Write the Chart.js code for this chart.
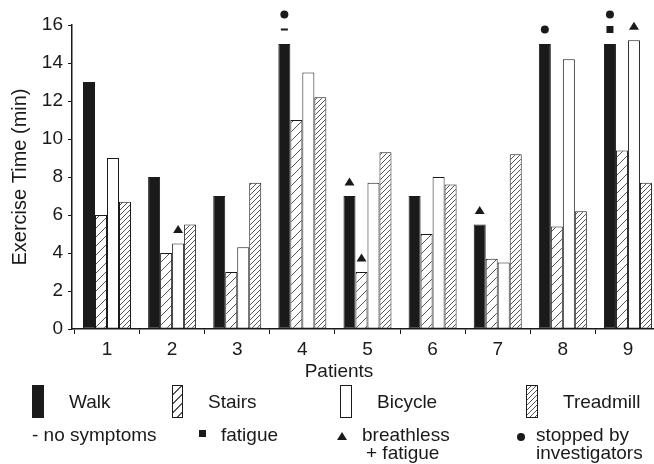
<!DOCTYPE html>
<html>
<head>
<meta charset="utf-8">
<script src="https://cdn.jsdelivr.net/npm/chart.js@4/dist/chart.umd.min.js"></script>
<style>
  html, body { margin: 0; padding: 0; background: #fff; overflow: hidden; }
  #wrap { position: relative; width: 654px; height: 464px; font-family: 'Liberation Sans', Arial, sans-serif; color: #1a1a1a; }
  #c { position: absolute; left: 0; top: 0; }
  .t { position: absolute; font-size: 19px; line-height: 19px; white-space: nowrap; }
  .t2 { position: absolute; font-size: 19px; line-height: 18px; white-space: nowrap; }
  .sw { position: absolute; box-sizing: border-box; width: 12px; height: 33px; border: 1.5px solid #1a1a1a; background: #fff; }
</style>
</head>
<body>
<div id="wrap">
  <canvas id="c" width="654" height="464"></canvas>
  <div class="t" style="left:339px; top:361px; transform:translateX(-50%);">Patients</div>

  <div class="sw" style="left:32px; top:385px; background:#1a1a1a;"></div>
  <div class="t" style="left:69px; top:392px;">Walk</div>
  <div class="sw" style="left:172px; top:385px; width:11px; background:repeating-linear-gradient(135deg, #fff 0 5.4px, #555 5.4px 6.4px);"></div>
  <div class="t" style="left:208px; top:392px;">Stairs</div>
  <div class="sw" style="left:340px; top:385px;"></div>
  <div class="t" style="left:377px; top:392px;">Bicycle</div>
  <div class="sw" style="left:526px; top:385px; background:repeating-linear-gradient(135deg, #fff 0 2.5px, #555 2.5px 3.5px);"></div>
  <div class="t" style="left:563px; top:392px;">Treadmill</div>

  <div class="t2" style="left:32px; top:426px;">- no symptoms</div>
  <div style="position:absolute; left:199px; top:430px; width:7px; height:7px; background:#1a1a1a;"></div>
  <div class="t2" style="left:221px; top:426px;">fatigue</div>
  <div style="position:absolute; left:337px; top:432px; width:0; height:0; border-left:5px solid transparent; border-right:5px solid transparent; border-bottom:8px solid #1a1a1a;"></div>
  <div class="t2" style="left:362px; top:426px;">breathless<br><span style="padding-left:4px;">+ fatigue</span></div>
  <div style="position:absolute; left:517px; top:433px; width:8px; height:8px; border-radius:50%; background:#1a1a1a;"></div>
  <div class="t2" style="left:536px; top:426px;">stopped by<br>investigators</div>
</div>
<script>
// ---- data ----
const patients = [1, 2, 3, 4, 5, 6, 7, 8, 9];
const seriesNames = ['Walk', 'Stairs', 'Bicycle', 'Treadmill'];
const walk      = [13, 8, 7, 15, 7, 7, 5.5, 15, 15];
const stairs    = [6, 4, 3, 11, 3, 5, 3.7, 5.4, 9.4];
const bicycle   = [9, 4.5, 4.3, 13.5, 7.7, 8, 3.5, 14.2, 15.2];
const treadmill = [6.7, 5.5, 7.7, 12.2, 9.3, 7.6, 9.2, 6.2, 7.7];
const yTicks = [0, 2, 4, 6, 8, 10, 12, 14, 16];
// symbols shown above bars (stacked upward from bar top)
const markers = [
  { patient: 2, series: 'Bicycle', symbols: ['triangle'] },
  { patient: 4, series: 'Walk',    symbols: ['dash', 'circle'] },
  { patient: 5, series: 'Walk',    symbols: ['triangle'] },
  { patient: 5, series: 'Stairs',  symbols: ['triangle'] },
  { patient: 7, series: 'Walk',    symbols: ['triangle'] },
  { patient: 8, series: 'Walk',    symbols: ['circle'] },
  { patient: 9, series: 'Walk',    symbols: ['square', 'circle'] },
  { patient: 9, series: 'Bicycle', symbols: ['triangle'] }
];

const canvas = document.getElementById('c');
const ctx = canvas.getContext('2d');

function hatch(size, color) {
  const c = document.createElement('canvas');
  c.width = size; c.height = size;
  const g = c.getContext('2d');
  g.fillStyle = '#fff';
  g.fillRect(0, 0, size, size);
  g.strokeStyle = color;
  g.lineWidth = 1;
  g.beginPath();
  g.moveTo(0, size); g.lineTo(size, 0);
  g.moveTo(-1, 1); g.lineTo(1, -1);
  g.moveTo(size - 1, size + 1); g.lineTo(size + 1, size - 1);
  g.stroke();
  return ctx.createPattern(c, 'repeat');
}

const ink = '#1a1a1a';
const toPts = arr => patients.map((p, i) => ({ x: p, y: arr[i] }));

const markerPlugin = {
  id: 'markers',
  afterDatasetsDraw(chart) {
    const g = chart.ctx;
    g.save();
    g.fillStyle = ink;
    markers.forEach(m => {
      const ds = seriesNames.indexOf(m.series);
      const el = chart.getDatasetMeta(ds).data[patients.indexOf(m.patient)];
      m.symbols.forEach((s, k) => {
        const cx = el.x, cy = el.y - 14.5 - 15 * k;
        g.beginPath();
        if (s === 'circle') { g.arc(cx, cy, 4, 0, Math.PI * 2); g.fill(); }
        else if (s === 'square') { g.fillRect(cx - 3.5, cy - 3.5, 7, 7); }
        else if (s === 'dash') { g.fillRect(cx - 3.5, cy - 1, 7, 2); }
        else if (s === 'triangle') {
          g.moveTo(cx - 5, cy + 4); g.lineTo(cx + 5, cy + 4); g.lineTo(cx, cy - 4); g.closePath(); g.fill();
        }
      });
    });
    g.restore();
  }
};

Chart.defaults.font.family = "'Liberation Sans', Arial, sans-serif";
Chart.defaults.color = ink;

new Chart(ctx, {
  type: 'bar',
  data: {
    datasets: [
      { label: seriesNames[0], data: toPts(walk),      backgroundColor: ink,               borderColor: ink, borderWidth: 1 },
      { label: seriesNames[1], data: toPts(stairs),    backgroundColor: hatch(9, '#555'),  borderColor: ink, borderWidth: 1 },
      { label: seriesNames[2], data: toPts(bicycle),   backgroundColor: '#fff',            borderColor: ink, borderWidth: 1 },
      { label: seriesNames[3], data: toPts(treadmill), backgroundColor: hatch(5, '#555'),  borderColor: ink, borderWidth: 1 }
    ]
  },
  options: {
    responsive: false,
    animation: false,
    devicePixelRatio: 1,
    layout: { padding: { left: 0, right: 0, top: 25, bottom: 95 } },
    datasets: { bar: { categoryPercentage: 0.737, barPercentage: 1.0, borderSkipped: false } },
    plugins: { legend: { display: false }, tooltip: { enabled: false } },
    scales: {
      x: {
        type: 'linear',
        offset: false,
        min: 0.4626,
        max: 9.4,
        afterBuildTicks: s => { s.ticks = patients.map(v => ({ value: v })); },
        afterFit: s => { s.height = 40; },
        grid: { display: true, drawOnChartArea: false, drawTicks: true, tickLength: 5, color: ink },
        border: { display: true, color: ink, width: 1.5 },
        ticks: { font: { size: 19 }, padding: 4, color: ink }
      },
      y: {
        min: 0,
        max: 16,
        afterBuildTicks: s => { s.ticks = yTicks.map(v => ({ value: v })); },
        afterFit: s => { s.width = 72; },
        grid: { display: true, drawOnChartArea: false, drawTicks: true, tickLength: 4, color: ink },
        border: { display: true, color: ink, width: 1.5 },
        ticks: { font: { size: 19 }, padding: 5, color: ink },
        title: { display: true, text: 'Exercise Time (min)', font: { size: 20 }, padding: { top: 8, bottom: 0 }, color: ink }
      }
    }
  },
  plugins: [markerPlugin]
});
</script>
</body>
</html>
